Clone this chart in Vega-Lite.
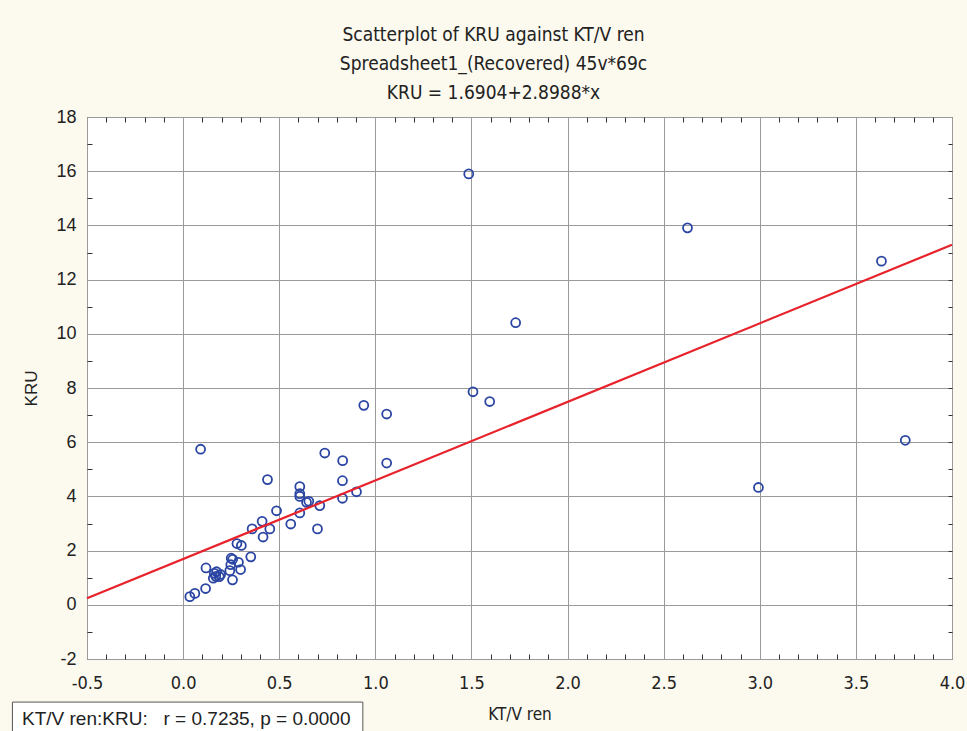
{
  "$schema": "https://vega.github.io/schema/vega-lite/v6.json",
  "width": 865,
  "height": 542,
  "autosize": "none",
  "padding": {"left": 87, "top": 117, "right": 15, "bottom": 72},
  "background": "#fcf9ee",
  "config": {
    "view": {"fill": "white", "stroke": "#333333", "strokeWidth": 1},
    "axis": {"domain": false, "tickColor": "#333333", "labelColor": "#222222", "titleColor": "#222222", "titleFontWeight": "normal"}
  },
  "title": {
    "text": ["Scatterplot of KRU against KT/V ren", "Spreadsheet1_(Recovered) 45v*69c", "KRU = 1.6904+2.8988*x"],
    "font": "Liberation Sans Narrow, DejaVu Sans Condensed, Liberation Sans, sans-serif",
    "fontSize": 19,
    "fontWeight": "normal",
    "color": "#222222",
    "lineHeight": 29,
    "anchor": "middle",
    "dx": -26,
    "offset": 5
  },
  "datasets": {
    "points": [
      {"ktv": 0.035, "kru": 0.30}, {"ktv": 0.061, "kru": 0.42}, {"ktv": 0.117, "kru": 0.60},
      {"ktv": 0.119, "kru": 1.36}, {"ktv": 0.091, "kru": 5.74}, {"ktv": 0.157, "kru": 0.98},
      {"ktv": 0.162, "kru": 1.16}, {"ktv": 0.174, "kru": 1.22}, {"ktv": 0.188, "kru": 1.04},
      {"ktv": 0.195, "kru": 1.12}, {"ktv": 0.170, "kru": 1.05}, {"ktv": 0.257, "kru": 0.92},
      {"ktv": 0.243, "kru": 1.26}, {"ktv": 0.299, "kru": 1.30}, {"ktv": 0.250, "kru": 1.72},
      {"ktv": 0.258, "kru": 1.68}, {"ktv": 0.288, "kru": 1.57}, {"ktv": 0.248, "kru": 1.48},
      {"ktv": 0.352, "kru": 1.77}, {"ktv": 0.280, "kru": 2.26}, {"ktv": 0.303, "kru": 2.19},
      {"ktv": 0.416, "kru": 2.50}, {"ktv": 0.359, "kru": 2.80}, {"ktv": 0.451, "kru": 2.80},
      {"ktv": 0.411, "kru": 3.08}, {"ktv": 0.486, "kru": 3.47}, {"ktv": 0.560, "kru": 2.98},
      {"ktv": 0.607, "kru": 3.39}, {"ktv": 0.699, "kru": 2.80}, {"ktv": 0.439, "kru": 4.62},
      {"ktv": 0.607, "kru": 4.36}, {"ktv": 0.607, "kru": 4.10}, {"ktv": 0.607, "kru": 4.00},
      {"ktv": 0.642, "kru": 3.78}, {"ktv": 0.654, "kru": 3.82}, {"ktv": 0.711, "kru": 3.66},
      {"ktv": 0.829, "kru": 4.58}, {"ktv": 0.829, "kru": 3.93}, {"ktv": 0.902, "kru": 4.17},
      {"ktv": 0.737, "kru": 5.60}, {"ktv": 0.830, "kru": 5.32}, {"ktv": 0.940, "kru": 7.36},
      {"ktv": 1.059, "kru": 7.04}, {"ktv": 1.059, "kru": 5.23}, {"ktv": 1.486, "kru": 15.90},
      {"ktv": 1.508, "kru": 7.86}, {"ktv": 1.595, "kru": 7.50}, {"ktv": 1.730, "kru": 10.41},
      {"ktv": 2.624, "kru": 13.91}, {"ktv": 2.993, "kru": 4.33}, {"ktv": 3.633, "kru": 12.68},
      {"ktv": 3.757, "kru": 6.07}
    ],
    "fit": [{"ktv": -0.5, "kru": 0.241}, {"ktv": 4.0, "kru": 13.2856}],
    "note": [{"label": "KT/V ren:KRU:\u00a0\u00a0 r = 0.7235, p = 0.0000", "x0": -0.888, "x1": 0.935, "y0": -3.59, "y1": -4.9, "tx": -0.838, "ty": -4.2}]
  },
  "resolve": {"axis": {"x": "independent", "y": "independent"}},
  "layer": [
    {
      "data": {"name": "points"},
      "mark": {"type": "point", "shape": "circle", "filled": false, "stroke": "#2b45a3", "strokeWidth": 1.8, "size": 80, "opacity": 1},
      "encoding": {
        "x": {
          "field": "ktv", "type": "quantitative",
          "scale": {"domain": [-0.5, 4.0], "nice": false, "zero": false},
          "axis": {
            "orient": "bottom",
            "title": "KT/V ren",
            "titleFont": "Liberation Sans Narrow, DejaVu Sans Condensed, Liberation Sans, sans-serif",
            "titleFontSize": 17,
            "titlePadding": 14,
            "values": [-0.5,-0.4,-0.3,-0.2,-0.1,0,0.1,0.2,0.3,0.4,0.5,0.6,0.7,0.8,0.9,1.0,1.1,1.2,1.3,1.4,1.5,1.6,1.7,1.8,1.9,2.0,2.1,2.2,2.3,2.4,2.5,2.6,2.7,2.8,2.9,3.0,3.1,3.2,3.3,3.4,3.5,3.6,3.7,3.8,3.9,4.0],
            "labelExpr": "abs(datum.value*2 - round(datum.value*2)) < 0.001 ? (datum.value < 0 ? '-' : '') + format(abs(datum.value), '.1f') : ''",
            "labelFont": "Liberation Sans Narrow, DejaVu Sans Condensed, Liberation Sans, sans-serif",
            "labelFontSize": 18,
            "labelPadding": 15,
            "labelFlush": false,
            "labelOverlap": false,
            "grid": true,
            "gridColor": "#9a9a9a",
            "gridWidth": 1,
            "gridOpacity": {"condition": {"test": "abs(datum.value*2 - round(datum.value*2)) < 0.001", "value": 1}, "value": 0},
            "tickSize": {"condition": {"test": "abs(datum.value*2 - round(datum.value*2)) < 0.001", "value": 0}, "value": -5}
          }
        },
        "y": {
          "field": "kru", "type": "quantitative",
          "scale": {"domain": [-2, 18], "nice": false, "zero": false},
          "axis": {
            "orient": "left",
            "title": "KRU",
            "titleFont": "Liberation Sans",
            "titleFontSize": 17,
            "titlePadding": 15,
            "values": [-2,-1,0,1,2,3,4,5,6,7,8,9,10,11,12,13,14,15,16,17,18],
            "labelExpr": "datum.value % 2 == 0 ? (datum.value < 0 ? '-' + abs(datum.value) : '' + datum.value) : ''",
            "labelFont": "Liberation Sans",
            "labelFontSize": 18,
            "labelPadding": 11,
            "labelFlush": false,
            "labelOverlap": false,
            "grid": true,
            "gridColor": "#9a9a9a",
            "gridWidth": 1,
            "gridOpacity": {"condition": {"test": "datum.value % 2 == 0", "value": 1}, "value": 0},
            "tickSize": {"condition": {"test": "datum.value % 2 == 0", "value": 0}, "value": -5}
          }
        }
      }
    },
    {
      "data": {"name": "fit"},
      "mark": {"type": "line", "color": "#e8222b", "strokeWidth": 2.2},
      "encoding": {
        "x": {
          "field": "ktv", "type": "quantitative",
          "axis": {
            "orient": "top", "title": null, "labels": false, "grid": false,
            "values": [-0.4,-0.3,-0.2,-0.1,0.1,0.2,0.3,0.4,0.6,0.7,0.8,0.9,1.1,1.2,1.3,1.4,1.6,1.7,1.8,1.9,2.1,2.2,2.3,2.4,2.6,2.7,2.8,2.9,3.1,3.2,3.3,3.4,3.6,3.7,3.8,3.9],
            "tickSize": -5
          }
        },
        "y": {
          "field": "kru", "type": "quantitative",
          "axis": {
            "orient": "right", "title": null, "labels": false, "grid": false,
            "values": [-1,0,1,2,3,4,5,6,7,8,9,10,11,12,13,14,15,16,17],
            "tickSize": -4
          }
        }
      }
    },
    {
      "data": {"name": "note"},
      "mark": {"type": "rect", "fill": "white", "stroke": "#555555", "strokeWidth": 1, "clip": false},
      "encoding": {
        "x": {"field": "x0", "type": "quantitative", "axis": null},
        "x2": {"field": "x1"},
        "y": {"field": "y0", "type": "quantitative", "axis": null},
        "y2": {"field": "y1"}
      }
    },
    {
      "data": {"name": "note"},
      "mark": {"type": "text", "align": "left", "baseline": "middle", "font": "Liberation Sans", "fontSize": 19, "color": "#222222", "clip": false},
      "encoding": {
        "x": {"field": "tx", "type": "quantitative", "axis": null},
        "y": {"field": "ty", "type": "quantitative", "axis": null},
        "text": {"field": "label"}
      }
    }
  ]
}
